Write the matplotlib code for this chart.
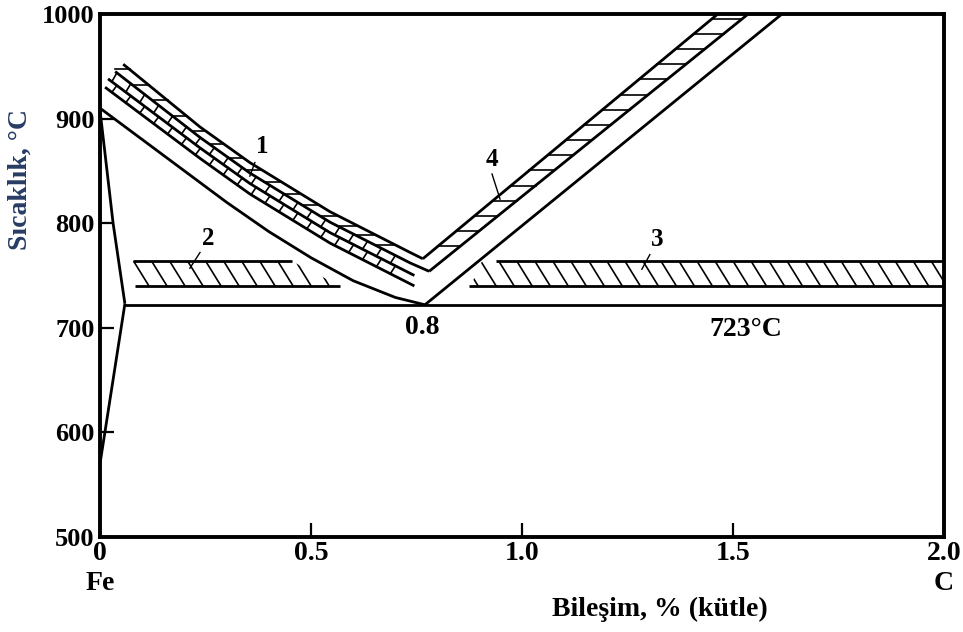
import numpy as np
import matplotlib.pyplot as plt
from matplotlib.patches import Polygon

plt.rcParams['font.family'] = ['Liberation Serif', 'DejaVu Serif']
plt.rcParams['font.weight'] = 'bold'

# Fe-C diagram, composition (% C) vs temperature (C)
a3_left_x = [0.0, 0.031, 0.059]
a3_left_t = [908, 800, 723]
a1_left_x = [0.059, 0.0]
a1_left_t = [723, 570]
eut_x = [0.059, 2.0]
eut_t = [722, 722]

# lowest (equilibrium) A3 curve
g_x = [0.0, 0.1, 0.2, 0.3, 0.4, 0.5, 0.6, 0.7, 0.77]
g_t = [910, 880, 850, 820, 792, 767, 745, 729, 722]

# band 1 (four lines)
b1_x = [[0.055, 0.237, 0.355, 0.545, 0.735, 0.765],
        [0.036, 0.237, 0.355, 0.545, 0.735, 0.78],
        [0.019, 0.237, 0.355, 0.545, 0.745],
        [0.012, 0.237, 0.355, 0.545, 0.745]]
b1_t = [[952, 892, 858, 811, 772, 766],
        [945, 882, 848, 801, 762, 754],
        [938, 872, 838, 791, 750],
        [930, 862, 828, 781, 740]]

# band 4 (Acm) lines
b4_x = [[0.765, 1.464], [0.78, 1.536], [0.77, 1.616]]
b4_t = [[766, 1000], [754, 1000], [722, 1000]]

# horizontal bands 2 and 3
band2_top = (0.078, 0.455, 763.5)
band2_bot = (0.083, 0.569, 740)
band3_top = (0.938, 2.0, 763.5)
band3_bot = (0.874, 2.0, 740)

labels = ['1', '2', '3', '4']
label_pos = [(0.384, 873), (0.256, 785), (1.32, 784), (0.929, 861)]
leaders = [((0.367, 858), (0.355, 845)), ((0.237, 772), (0.213, 757)),
           ((1.303, 770), (1.284, 756)), ((0.929, 847), (0.948, 823))]

fig = plt.figure(figsize=(9.63, 6.32), dpi=100)
ax = fig.add_axes([100 / 963, 1 - 537 / 632, 844 / 963, 523 / 632])
ax.set_xlim(0, 2.0)
ax.set_ylim(500, 1000)

lw = 2.0
kw = dict(color='black', lw=lw, solid_capstyle='butt')
ax.plot(a3_left_x, a3_left_t, **kw)
ax.plot(a1_left_x, a1_left_t, **kw)
ax.plot(eut_x, eut_t, **kw)
ax.plot(g_x, g_t, **kw)
for xs, ts in zip(b1_x, b1_t):
    ax.plot(xs, ts, **kw)
for xs, ts in zip(b4_x, b4_t):
    ax.plot(xs, ts, **kw)

for x0, x1, t in [band2_top, band2_bot, band3_top, band3_bot]:
    ax.plot([x0, x1], [t, t], **kw)

hk = dict(color='black', lw=1.2)

# diagonal hatching in bands 2 and 3
def band_hatch(poly, x_start, x_end):
    clip = Polygon(poly, closed=True, transform=ax.transData, fill=False, lw=0)
    ax.add_patch(clip)
    for x in np.arange(x_start, x_end, 0.0427):
        ln, = ax.plot([x, x + 0.036], [763.5, 740], **hk)
        ln.set_clip_path(clip)

band_hatch([(0.078, 740), (0.078, 763.5), (0.455, 763.5), (0.569, 740)], 0.08, 0.6)
band_hatch([(0.878, 740), (0.905, 763.5), (2.0, 763.5), (2.0, 740)], 0.86, 2.0)

# horizontal strokes in band 4
for t in np.arange(778, 1000, 14.5):
    xa = np.interp(t, b4_t[0], b4_x[0])
    xb = np.interp(t, b4_t[1], b4_x[1])
    ax.plot([xa, xb], [t, t], **hk)

# strokes in band 1
for x in np.arange(0.07, 0.74, 0.045):
    tu = np.interp(x, b1_x[0], b1_t[0])
    xl = np.interp(tu, b1_t[1][::-1], b1_x[1][::-1])
    ax.plot([xl, x], [tu, tu], **hk)
for k in (1, 2):
    for x in np.arange(0.04, 0.73, 0.033):
        tu = np.interp(x, b1_x[k], b1_t[k])
        tl = np.interp(x - 0.012, b1_x[k + 1], b1_t[k + 1])
        ax.plot([x, x - 0.012], [tu, tl], **hk)

for lab, (x, t) in zip(labels, label_pos):
    ax.text(x, t, lab, fontsize=18, fontweight='bold', ha='center', va='center')
for (p0, p1) in leaders:
    ax.plot([p0[0], p1[0]], [p0[1], p1[1]], color='black', lw=1)

ax.text(0.763, 700, '0.8', fontsize=20, fontweight='bold', ha='center', va='center')
ax.text(1.531, 698, '723°C', fontsize=20, fontweight='bold', ha='center', va='center')

for s in ax.spines.values():
    s.set_linewidth(2.8)
ax.set_xticks([0, 0.5, 1.0, 1.5, 2.0])
ax.set_xticklabels(['0', '0.5', '1.0', '1.5', '2.0'])
ax.set_yticks([500, 600, 700, 800, 900, 1000])
ax.tick_params(direction='in', length=10, width=1.6, pad=4)
ax.tick_params(axis='x', labelsize=20, pad=3)
ax.tick_params(axis='y', labelsize=19)
for lb in ax.get_xticklabels() + ax.get_yticklabels():
    lb.set_fontweight('bold')

fig.text(100 / 963, 1 - 584 / 632, 'Fe', fontsize=20, fontweight='bold', ha='center', va='center')
fig.text(944 / 963, 1 - 584 / 632, 'C', fontsize=20, fontweight='bold', ha='center', va='center')
fig.text(660 / 963, 1 - 609 / 632, 'Bileşim, % (kütle)', fontsize=20, fontweight='bold',
         ha='center', va='center')
fig.text(20 / 963, 1 - 180 / 632, 'Sıcaklık, °C', fontsize=20, fontweight='bold',
         color='#283c64', rotation=90, ha='center', va='center')

fig.savefig('out.png', dpi=100)
